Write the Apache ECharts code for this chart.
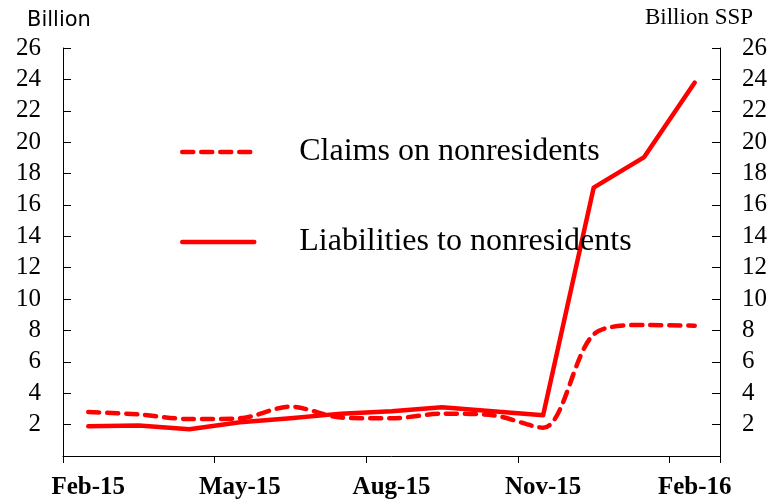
<!DOCTYPE html>
<html>
<head>
<meta charset="utf-8">
<script src="https://cdn.jsdelivr.net/npm/echarts@6/dist/echarts.min.js"></script>
<style>
  html, body { margin: 0; padding: 0; background: #fff; }
  #chart { width: 782px; height: 504px; }
</style>
</head>
<body>
<div id="chart"></div>
<script>
// monthly, Feb-15 .. Feb-16
const months = ['Feb-15', 'Mar-15', 'Apr-15', 'May-15', 'Jun-15', 'Jul-15', 'Aug-15',
  'Sep-15', 'Oct-15', 'Nov-15', 'Dec-15', 'Jan-16', 'Feb-16']
const claims = [2.8, 2.65, 2.35, 2.4, 3.15, 2.45, 2.4, 2.7, 2.6, 1.8, 7.75, 8.35, 8.3]
const liabilities = [1.9, 1.95, 1.7, 2.15, 2.4, 2.7, 2.85, 3.1, 2.85, 2.6, 17.1, 19.05, 23.8]

const serif = '"Liberation Serif", "Times New Roman", serif'
const red = '#ff0000'
const dash = [11, 8]

const chart = echarts.init(document.getElementById('chart'))

const valueAxis = (pos) => ({
  type: 'value',
  position: pos,
  min: 0,
  max: 26,
  interval: 2,
  splitLine: { show: false },
  axisLine: { show: true, lineStyle: { color: '#000', width: 1 } },
  axisTick: { show: true, inside: true, length: 8, lineStyle: { color: '#000' } },
  axisLabel: {
    showMinLabel: false,
    margin: 22,
    fontFamily: serif,
    fontSize: 25,
    color: '#000',
  },
})

chart.setOption({
  animation: false,
  title: [
    {
      text: 'Billion',
      left: 27,
      top: 10,
      padding: 0,
      textStyle: { fontFamily: '"DejaVu Sans", sans-serif', fontSize: 21, fontWeight: 'normal', color: '#000' },
    },
    {
      text: 'Billion SSP',
      right: 29,
      top: 6,
      padding: 0,
      textStyle: { fontFamily: serif, fontSize: 23, fontWeight: 'normal', color: '#000' },
    },
  ],
  grid: { left: 63, right: 62, top: 48, bottom: 48, containLabel: false },
  legend: {
    orient: 'vertical',
    left: 175,
    top: 131,
    itemWidth: 72,
    itemHeight: 32,
    itemGap: 58,
    textStyle: { fontFamily: serif, fontSize: 32, lineHeight: 32, color: '#000', padding: [0, 0, 0, 40] },
    data: [
      {
        name: 'Claims on nonresidents',
        itemStyle: { opacity: 0 },
        lineStyle: { color: red, width: 4.5, type: dash, cap: 'round' },
      },
      {
        name: 'Liabilities to nonresidents',
        itemStyle: { opacity: 0 },
        lineStyle: { color: red, width: 4.5, cap: 'round' },
      },
    ],
  },
  xAxis: {
    type: 'category',
    data: months,
    boundaryGap: true,
    axisLine: { lineStyle: { color: '#000', width: 1 } },
    axisTick: { show: true, interval: 2, length: 7, lineStyle: { color: '#000' } },
    axisLabel: {
      interval: 2,
      margin: 19,
      fontFamily: serif,
      fontSize: 25,
      fontWeight: 'bold',
      color: '#000',
    },
  },
  yAxis: [valueAxis('left'), valueAxis('right')],
  series: [
    {
      name: 'Claims on nonresidents',
      type: 'line',
      data: claims,
      symbol: 'none',
      smooth: 0.3,
      lineStyle: { color: red, width: 4.5, type: dash, cap: 'round' },
      itemStyle: { color: red },
    },
    {
      name: 'Liabilities to nonresidents',
      type: 'line',
      data: liabilities,
      symbol: 'none',
      lineStyle: { color: red, width: 4.5, cap: 'round', join: 'round' },
      itemStyle: { color: red },
    },
  ],
})
</script>
</body>
</html>
